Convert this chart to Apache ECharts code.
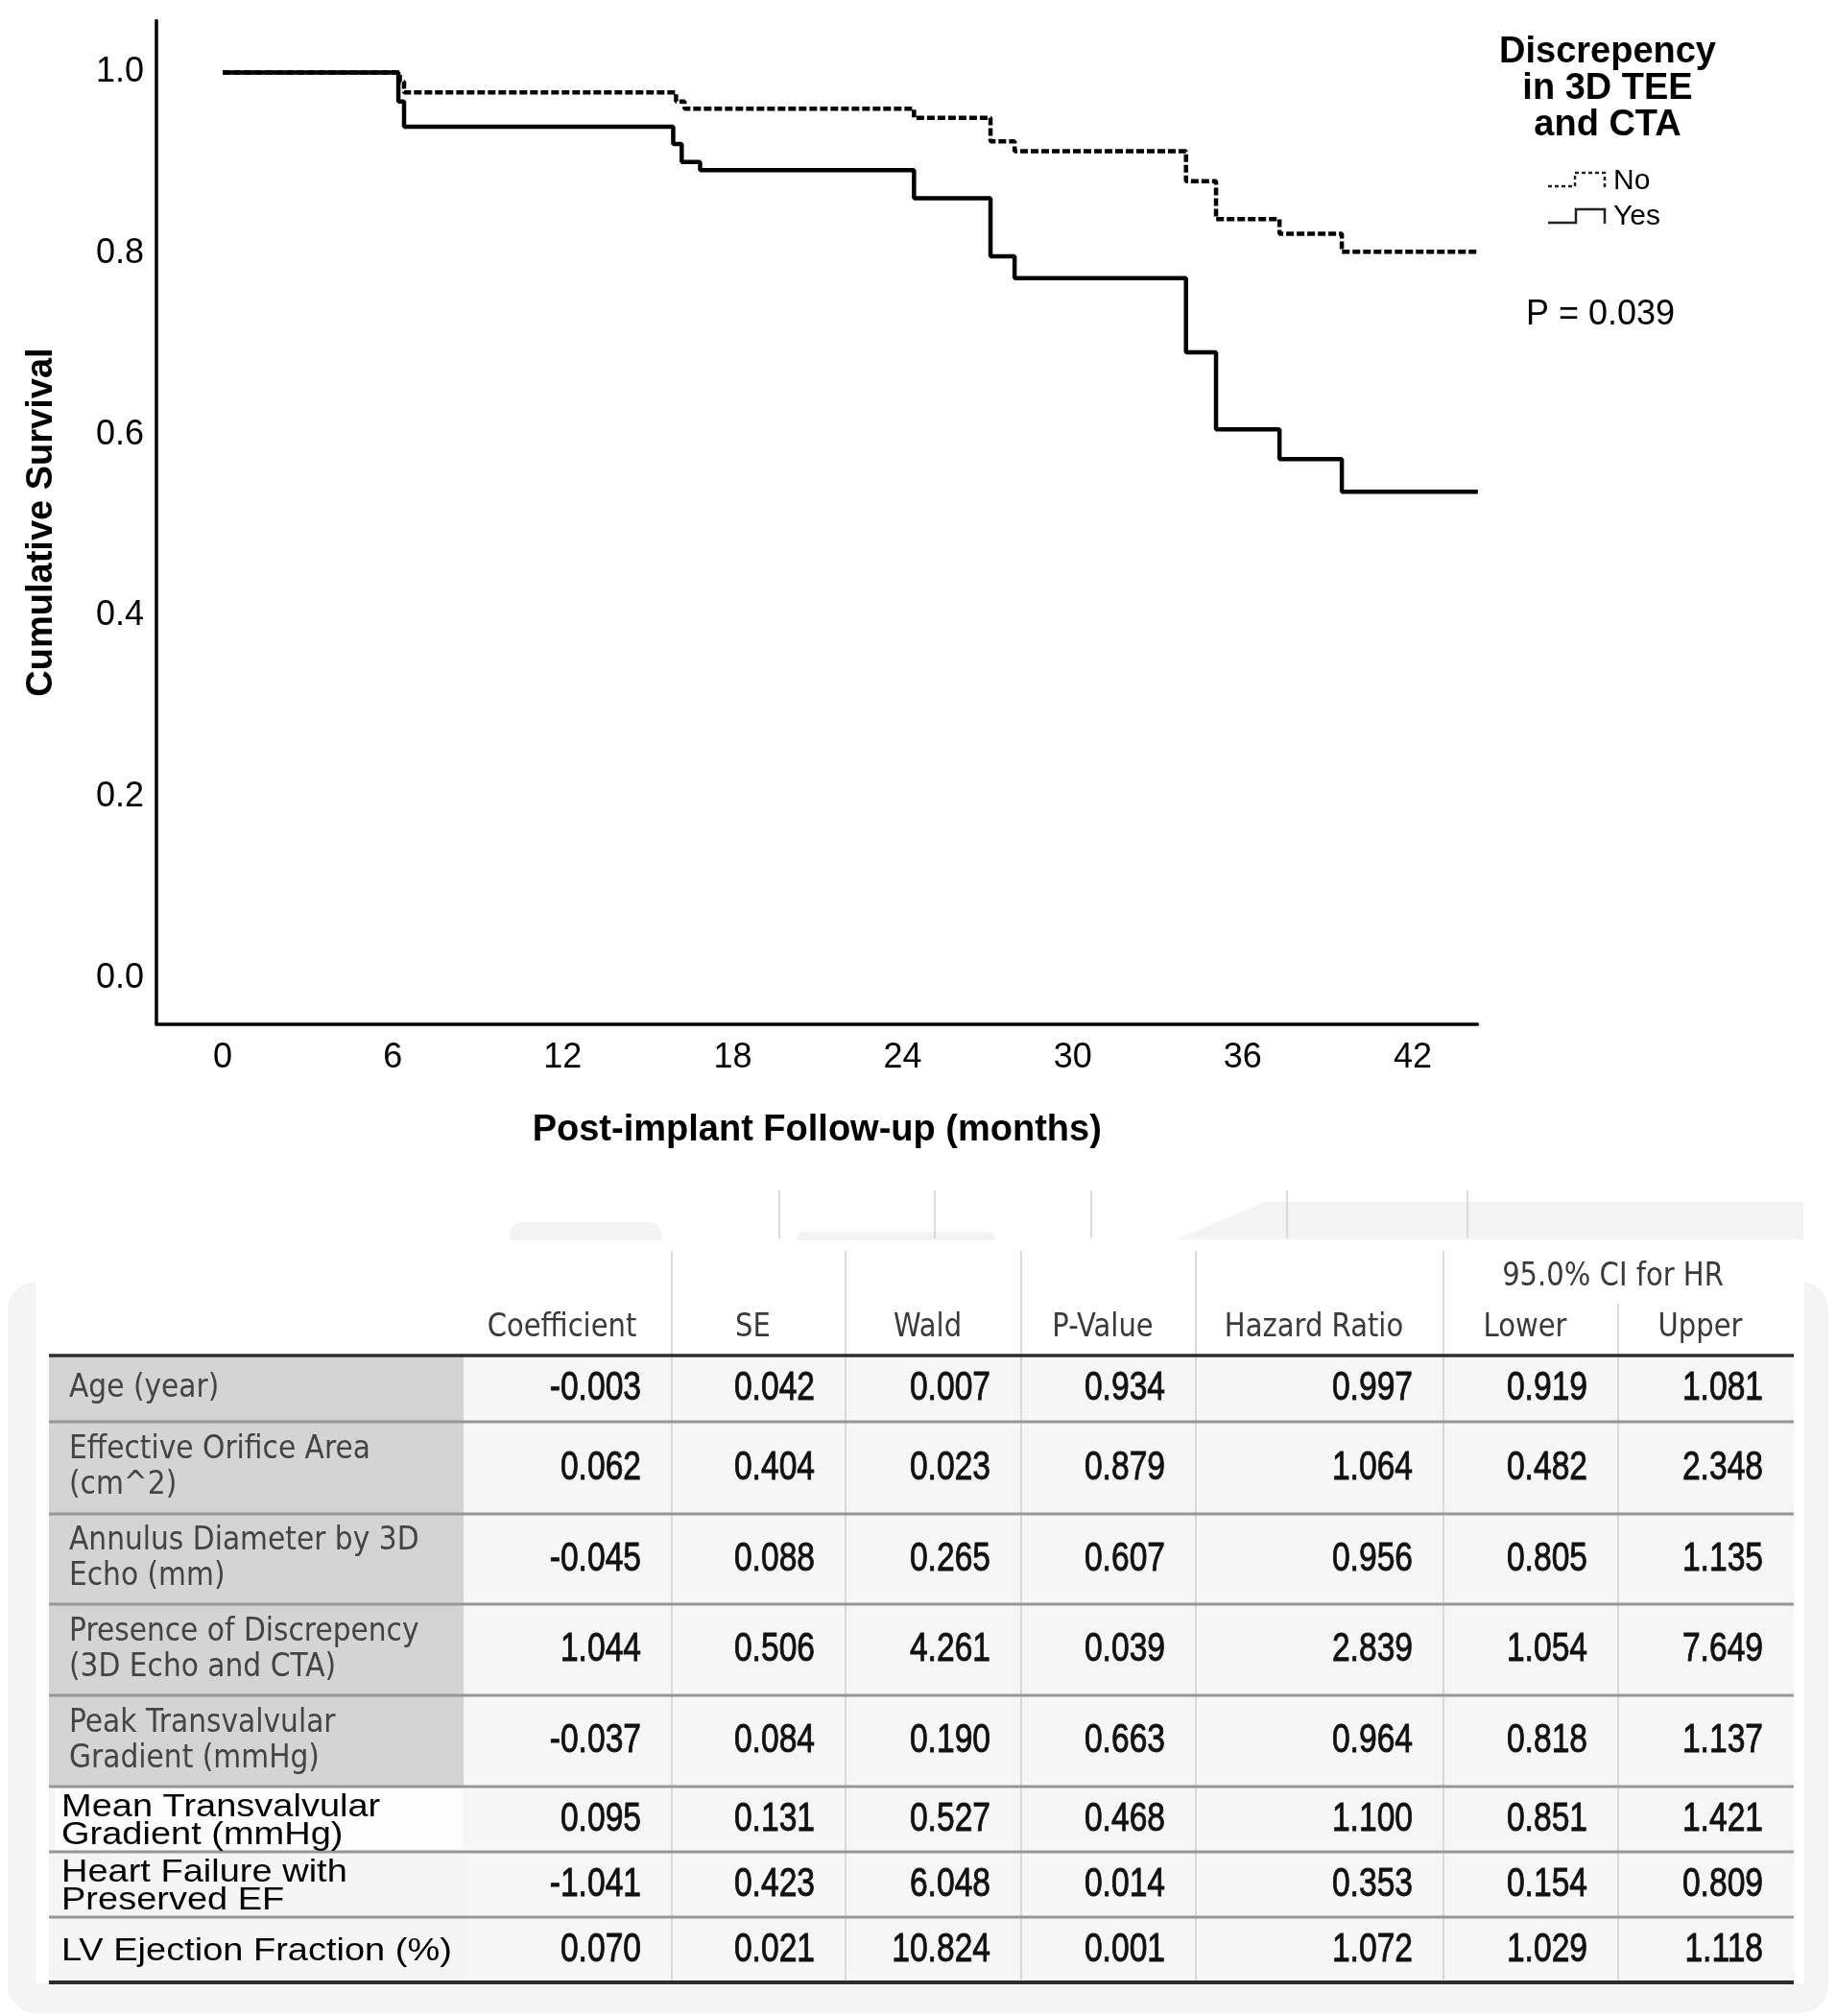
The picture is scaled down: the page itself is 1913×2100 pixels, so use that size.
<!DOCTYPE html>
<html><head><meta charset="utf-8">
<script src="https://cdn.jsdelivr.net/npm/echarts@6/dist/echarts.min.js"></script>
<style>html,body{margin:0;padding:0;background:#fff}#c{width:1913px;height:2100px}</style>
</head><body><div id="c"></div>
<script>
// ---- Kaplan-Meier data (months, cumulative survival) ----
const monthsYes   = [0, 6.2, 6.4, 15.9, 16.2, 16.85, 24.4, 27.1, 27.95, 34.0, 35.06, 37.3, 39.5, 44.3];
const survivalYes = [1.0, 0.968, 0.940, 0.921, 0.901, 0.892, 0.861, 0.797, 0.773, 0.691, 0.606, 0.573, 0.537, 0.537];
const monthsNo    = [0, 6.25, 6.4, 16.0, 16.3, 24.4, 27.1, 27.95, 34.0, 35.06, 37.3, 39.5, 44.3];
const survivalNo  = [1.0, 0.990, 0.978, 0.968, 0.960, 0.950, 0.924, 0.913, 0.880, 0.838, 0.822, 0.802, 0.802];
const xTicks = [0, 6, 12, 18, 24, 30, 36, 42];
const yTicks = [0, 0.2, 0.4, 0.6, 0.8, 1.0];
const legendTitle = 'Discrepency\nin 3D TEE\nand CTA';
const legendNames = ['No', 'Yes'];
const pText = 'P = 0.039';

// ---- Cox regression table ----
const tableHeaders = ['Coefficient', 'SE', 'Wald', 'P-Value', 'Hazard Ratio', 'Lower', 'Upper'];
const ciHeader = '95.0% CI for HR';
const rowLabels = ['Age (year)', 'Effective Orifice Area\n(cm^2)', 'Annulus Diameter by 3D\nEcho (mm)',
  'Presence of Discrepency\n(3D Echo and CTA)', 'Peak Transvalvular\nGradient (mmHg)',
  'Mean Transvalvular\nGradient (mmHg)', 'Heart Failure with\nPreserved EF', 'LV Ejection Fraction (%)'];
const coefficient = [-0.003, 0.062, -0.045, 1.044, -0.037, 0.095, -1.041, 0.070];
const se          = [0.042, 0.404, 0.088, 0.506, 0.084, 0.131, 0.423, 0.021];
const wald        = [0.007, 0.023, 0.265, 4.261, 0.190, 0.527, 6.048, 10.824];
const pValue      = [0.934, 0.879, 0.607, 0.039, 0.663, 0.468, 0.014, 0.001];
const hazardRatio = [0.997, 1.064, 0.956, 2.839, 0.964, 1.100, 0.353, 1.072];
const ciLower     = [0.919, 0.482, 0.805, 1.054, 0.818, 0.851, 0.154, 1.029];
const ciUpper     = [1.081, 2.348, 1.135, 7.649, 1.137, 1.421, 0.809, 1.118];

const chart = echarts.init(document.getElementById('c'));
const pairs = (xs, ys) => xs.map((x, i) => [x, ys[i]]);

// ---- layout ----
const colEdges = [51, 483, 700, 881, 1064, 1246, 1504, 1686, 1869];
const rowEdges = [1412, 1481, 1577, 1671, 1766, 1861, 1929, 1997, 2065];
const headTop = 1303;
const g = [];
function txt(o) {
  const st = Object.assign({}, o.style);
  if (st.textAlign) st.align = st.textAlign;
  if (st.textVerticalAlign) st.verticalAlign = st.textVerticalAlign;
  g.push({type: 'text', x: o.x, y: o.y, scaleX: o.scaleX || 1, scaleY: o.scaleY || 1, z: o.z || 5, silent: true, style: st});
}
function line(x1, y1, x2, y2, stroke, w, z) {
  g.push({type: 'line', z: z || 3, silent: true, shape: {x1, y1, x2, y2}, style: {stroke, lineWidth: w}});
}
function rect(x, y, w, h, fill, z, r) {
  g.push({type: 'rect', z: z || 1, silent: true, shape: {x, y, width: w, height: h, r: r || 0}, style: {fill}});
}

// background remnants around the table
rect(8, 1335, 1897, 762, '#f4f4f4', 0, 30);
rect(37, 1291, 1843, 775, '#ffffff', 0);
rect(531, 1273, 158, 19, '#f3f3f3', 0, [14, 14, 0, 0]);
rect(830, 1283, 207, 9, '#f3f3f3', 0, [8, 8, 0, 0]);
g.push({type: 'polygon', z: 0, silent: true, shape: {points: [[1226, 1291], [1318, 1252], [1879, 1252], [1879, 1291]]}, style: {fill: '#f3f3f3'}});
[812, 974, 1137, 1341, 1529].forEach(x => line(x, 1240, x, 1290, '#d2d2d2', 1.5, 1));

// table cell backgrounds
rect(colEdges[1], rowEdges[0], colEdges[8] - colEdges[1], rowEdges[8] - rowEdges[0], '#f6f6f6', 1);
rect(colEdges[0], rowEdges[0], colEdges[1] - colEdges[0], rowEdges[5] - rowEdges[0], '#d4d4d4', 1);
rect(colEdges[0], rowEdges[5], colEdges[1] - colEdges[0], rowEdges[8] - rowEdges[5], '#f5f5f5', 1);
rect(colEdges[0] + 6, rowEdges[5] + 2, colEdges[1] - colEdges[0] - 6, rowEdges[6] - rowEdges[5] - 4, '#fdfdfd', 1);

// vertical separators
for (let c = 2; c <= 6; c++) line(colEdges[c], headTop, colEdges[c], rowEdges[8], '#cfcfcf', 1.5, 2);
line(colEdges[7], 1358, colEdges[7], rowEdges[8], '#cfcfcf', 1.5, 2);
// horizontal rules
for (let r = 1; r < 8; r++) line(colEdges[0], rowEdges[r], colEdges[8], rowEdges[r], '#969696', 3, 3);
line(colEdges[0], rowEdges[0], colEdges[8], rowEdges[0], '#2e2e2e', 3.5, 4);
line(colEdges[0], rowEdges[8], colEdges[8], rowEdges[8], '#2e2e2e', 4, 4);

// header texts
const headFont = {fontFamily: 'DejaVu Sans', fontSize: 33, fill: '#3a3a3a', textAlign: 'center', textVerticalAlign: 'middle'};
tableHeaders.forEach((h, i) => {
  const cx = (colEdges[i + 1] + colEdges[i + 2]) / 2 - 6;
  txt({x: cx, y: 1383, scaleX: 0.88, style: Object.assign({text: h}, headFont)});
});
txt({x: (colEdges[6] + colEdges[8]) / 2 - 6, y: 1330, scaleX: 0.88, style: Object.assign({text: ciHeader}, headFont)});

// row labels
rowLabels.forEach((lab, r) => {
  const cy = (rowEdges[r] + rowEdges[r + 1]) / 2;
  if (r < 5) {
    txt({x: 72, y: cy, scaleX: 0.9, style: {text: lab, fontFamily: 'DejaVu Sans', fontSize: 33, lineHeight: 37, fill: '#444', textAlign: 'left', textVerticalAlign: 'middle'}});
  } else {
    txt({x: 64, y: cy + 2, scaleY: 0.88, style: {text: lab, fontFamily: 'Liberation Sans', fontSize: 38, lineHeight: 33, fill: '#000', textAlign: 'left', textVerticalAlign: 'middle'}});
  }
});

// numbers
const columns = [coefficient, se, wald, pValue, hazardRatio, ciLower, ciUpper];
columns.forEach((col, c) => {
  const xr = colEdges[c + 2] - 32;
  col.forEach((v, r) => {
    const cy = (rowEdges[r] + rowEdges[r + 1]) / 2;
    txt({x: xr, y: cy, scaleX: 0.8, style: {text: v.toFixed(3), fontFamily: 'Liberation Sans', fontSize: 42, fill: '#111', stroke: '#111', lineWidth: 0.9, textAlign: 'right', textVerticalAlign: 'middle'}});
  });
});

// KM legend + p-value
txt({x: 1675, y: 93, style: {text: legendTitle, fontFamily: 'Liberation Sans', fontWeight: 'bold', fontSize: 38, lineHeight: 38, fill: '#000', textAlign: 'center', textVerticalAlign: 'middle'}});
g.push({type: 'polyline', z: 5, silent: true, shape: {points: [[1613, 194], [1641, 194], [1641, 180], [1672, 180], [1672, 195]]}, style: {stroke: '#222', lineWidth: 2.5, lineDash: [4, 3], fill: null}});
g.push({type: 'polyline', z: 5, silent: true, shape: {points: [[1613, 232], [1642, 232], [1642, 218], [1672, 218], [1672, 233]]}, style: {stroke: '#222', lineWidth: 2.5, fill: null}});
txt({x: 1681, y: 189, style: {text: legendNames[0], fontFamily: 'Liberation Sans', fontSize: 30, fill: '#000', textAlign: 'left', textVerticalAlign: 'middle'}});
txt({x: 1681, y: 226, style: {text: legendNames[1], fontFamily: 'Liberation Sans', fontSize: 30, fill: '#000', textAlign: 'left', textVerticalAlign: 'middle'}});
txt({x: 1590, y: 328, style: {text: pText, fontFamily: 'Liberation Sans', fontSize: 36, fill: '#000', textAlign: 'left', textVerticalAlign: 'middle'}});

chart.setOption({
  animation: false,
  backgroundColor: '#fff',
  textStyle: {fontFamily: 'Liberation Sans'},
  grid: {left: 163, right: 373.5, top: 21.4, bottom: 1033.3, containLabel: false},
  xAxis: {
    type: 'value', min: -2.34, max: 44.29,
    name: 'Post-implant Follow-up (months)', nameLocation: 'middle', nameGap: 92,
    nameTextStyle: {fontSize: 38, fontWeight: 'bold', color: '#000', fontFamily: 'Liberation Sans'},
    axisLine: {show: true, onZero: false, lineStyle: {color: '#000', width: 3.5}},
    axisTick: {show: false}, splitLine: {show: false},
    axisLabel: {customValues: xTicks, fontSize: 36, color: '#000', margin: 17, fontFamily: 'Liberation Sans'}
  },
  yAxis: {
    type: 'value', min: -0.0506, max: 1.0573,
    name: 'Cumulative Survival', nameLocation: 'middle', nameGap: 100, nameRotate: 90,
    nameTextStyle: {fontSize: 38, fontWeight: 'bold', color: '#000', fontFamily: 'Liberation Sans'},
    axisLine: {show: true, onZero: false, lineStyle: {color: '#000', width: 3.5}},
    axisTick: {show: false}, splitLine: {show: false},
    axisLabel: {customValues: yTicks, fontSize: 36, color: '#000', margin: 13, fontFamily: 'Liberation Sans',
      formatter: v => Number(v).toFixed(1)}
  },
  series: [
    {name: 'No', type: 'line', step: 'end', symbol: 'none', data: pairs(monthsNo, survivalNo),
      lineStyle: {color: '#000', width: 4.5, type: [8, 3]}, z: 3},
    {name: 'Yes', type: 'line', step: 'end', symbol: 'none', data: pairs(monthsYes, survivalYes),
      lineStyle: {color: '#000', width: 4.5, type: 'solid'}, z: 4}
  ],
  graphic: {elements: g}
});
</script></body></html>
